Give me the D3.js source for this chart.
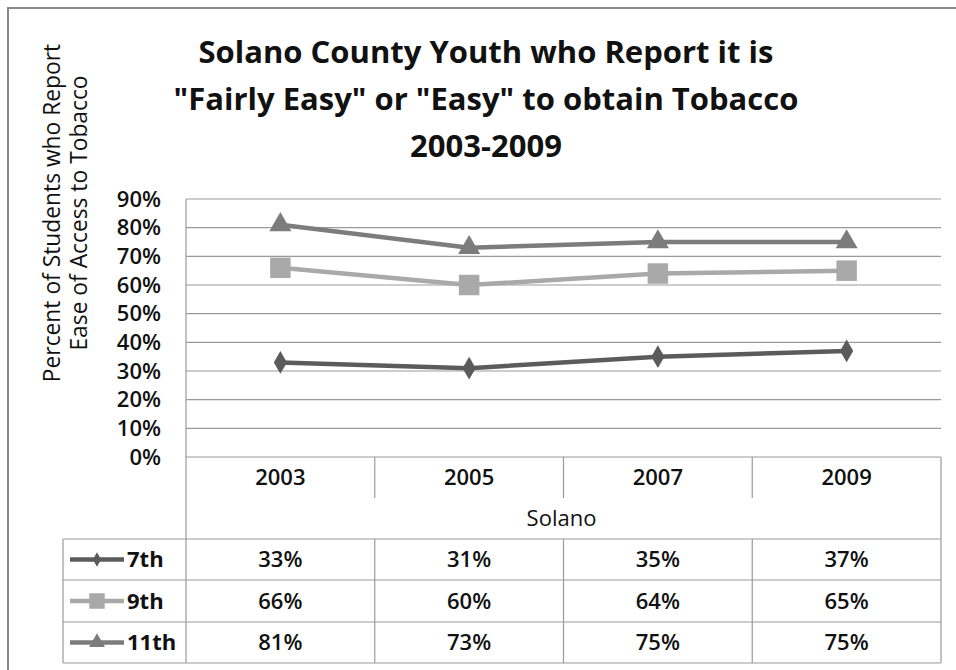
<!DOCTYPE html>
<html><head><meta charset="utf-8">
<script src="https://cdn.jsdelivr.net/npm/d3@7"></script>
<style>
html,body{margin:0;padding:0;background:#fff;}
svg{display:block;font-family:"Open Sans",sans-serif;}
</style></head>
<body>
<svg id="chart" width="956" height="670"></svg>
<script>
const years = ["2003","2005","2007","2009"];
const seriesNames = ["7th","9th","11th"];
const values7th = [0.33,0.31,0.35,0.37];
const values9th = [0.66,0.60,0.64,0.65];
const values11th = [0.81,0.73,0.75,0.75];
const yTicks = [0,0.1,0.2,0.3,0.4,0.5,0.6,0.7,0.8,0.9];
const titleLines = ["Solano County Youth who Report it is", "\"Fairly Easy\" or \"Easy\" to obtain Tobacco", "2003-2009"];
const yTitleLines = ["Percent of Students who Report", "Ease of Access to Tobacco"];
const groupLabel = "Solano";

const series = [
  {name: seriesNames[0], values: values7th, color: "#5b5b5b", symbol: d3.symbolDiamond, size: 150, lsize: 60},
  {name: seriesNames[1], values: values9th, color: "#a9a9a9", symbol: d3.symbolSquare, size: 420, lsize: 240},
  {name: seriesNames[2], values: values11th, color: "#7c7c7c", symbol: d3.symbolTriangle, size: 210, lsize: 110}
];

const svg = d3.select("#chart");
const L = 186, R = 941, T = 199, B = 457;
const x = d3.scaleBand().domain(years).range([L, R]).padding(0);
const y = d3.scaleLinear().domain([0, 0.9]).range([B, T]);
const gridColor = "#9a9a9a";

// outer border
svg.append("rect").attr("x", 8).attr("y", 8).attr("width", 1000).attr("height", 1000)
  .attr("fill", "none").attr("stroke", "#8a8a8a").attr("stroke-width", 2);

// title
const title = svg.append("text").attr("text-anchor", "middle")
  .attr("font-size", 31).attr("font-weight", 700).attr("fill", "#111");
titleLines.forEach((t, i) => title.append("tspan").attr("x", 486).attr("y", 63 + i * 47).text(t));

// y title
const yt = svg.append("g").attr("transform", "translate(60,213) rotate(-90)");
yTitleLines.forEach((t, i) => yt.append("text").attr("x", 0).attr("y", i * 27)
  .attr("text-anchor", "middle").attr("font-size", 22.8).attr("fill", "#111").text(t));

// gridlines
svg.append("g").selectAll("line").data(yTicks.slice(1)).join("line")
  .attr("x1", L).attr("x2", R).attr("y1", d => y(d)).attr("y2", d => y(d))
  .attr("stroke", gridColor).attr("stroke-width", 1.2);

// y axis
const yAxis = svg.append("g").attr("transform", `translate(${L},0)`)
  .call(d3.axisLeft(y).tickValues(yTicks).tickFormat(d3.format(".0%")).tickSize(0).tickPadding(25));
yAxis.select(".domain").remove();
yAxis.selectAll("text").attr("font-size", 22).attr("font-weight", 600).attr("fill", "#111")
  .attr("font-family", "'Open Sans',sans-serif");

// table lines
const tbl = svg.append("g").attr("stroke", gridColor).attr("stroke-width", 1.2);
const rowTops = [539, 580, 622, 663];
const legL = 63;
tbl.append("line").attr("x1", L).attr("x2", L).attr("y1", T).attr("y2", 663);
tbl.append("line").attr("x1", L).attr("x2", R).attr("y1", B).attr("y2", B);
tbl.append("line").attr("x1", R).attr("x2", R).attr("y1", B).attr("y2", 663);
tbl.append("line").attr("x1", legL).attr("x2", legL).attr("y1", 539).attr("y2", 663);
rowTops.forEach(r => tbl.append("line").attr("x1", legL).attr("x2", R).attr("y1", r).attr("y2", r));
years.slice(1).forEach(yr => {
  const xx = x(yr);
  tbl.append("line").attr("x1", xx).attr("x2", xx).attr("y1", B).attr("y2", 498);
  tbl.append("line").attr("x1", xx).attr("x2", xx).attr("y1", 539).attr("y2", 663);
});

// year labels
svg.append("g").selectAll("text").data(years).join("text")
  .attr("x", d => x(d) + x.bandwidth() / 2).attr("y", 477).attr("dy", "0.35em")
  .attr("text-anchor", "middle").attr("font-size", 22).attr("font-weight", 600).attr("fill", "#111").text(d => d);
svg.append("text").attr("x", (L + R) / 2 - 2).attr("y", 518).attr("dy", "0.35em")
  .attr("text-anchor", "middle").attr("font-size", 22).attr("fill", "#111").text(groupLabel);

// lines and markers
const line = d3.line().x((d, i) => x(years[i]) + x.bandwidth() / 2).y(d => y(d));
series.forEach(s => {
  svg.append("path").attr("d", line(s.values)).attr("fill", "none")
    .attr("stroke", s.color).attr("stroke-width", 4.5).attr("stroke-linejoin", "round");
  svg.append("g").selectAll("path").data(s.values).join("path")
    .attr("transform", (d, i) => `translate(${x(years[i]) + x.bandwidth() / 2},${y(d)})`)
    .attr("d", d3.symbol(s.symbol, s.size)).attr("fill", s.color);
});

// data table rows
series.forEach((s, r) => {
  const cy = (rowTops[r] + rowTops[r + 1]) / 2;
  svg.append("line").attr("x1", 70).attr("x2", 124).attr("y1", cy).attr("y2", cy)
    .attr("stroke", s.color).attr("stroke-width", 4.5);
  svg.append("path").attr("transform", `translate(97,${cy})`)
    .attr("d", d3.symbol(s.symbol, s.lsize)).attr("fill", s.color);
  svg.append("text").attr("x", 127).attr("y", cy).attr("dy", "0.36em")
    .attr("font-size", 22).attr("font-weight", 700).attr("fill", "#111").text(s.name);
  svg.append("g").selectAll("text").data(s.values).join("text")
    .attr("x", (d, i) => x(years[i]) + x.bandwidth() / 2).attr("y", cy).attr("dy", "0.36em")
    .attr("text-anchor", "middle").attr("font-size", 22).attr("font-weight", 600).attr("fill", "#111")
    .text(d => d3.format(".0%")(d));
});
</script>
</body></html>
